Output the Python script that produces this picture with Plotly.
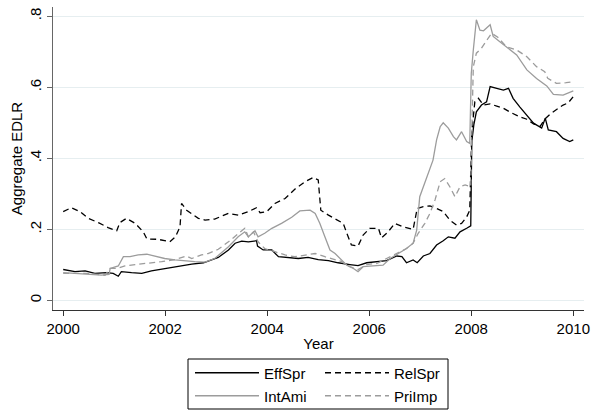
import plotly.graph_objects as go

# ---- data (decimal years, Aggregate EDLR) ----
eff_t = [2000.0, 2000.23, 2000.43, 2000.62, 2000.85, 2000.98, 2001.08, 2001.14, 2001.34, 2001.54,
         2001.73, 2001.93, 2002.13, 2002.32, 2002.52, 2002.75, 2003.04, 2003.24, 2003.37, 2003.5,
         2003.63, 2003.79, 2003.81, 2003.92, 2004.09, 2004.22, 2004.41, 2004.61, 2004.8, 2005.0,
         2005.2, 2005.39, 2005.62, 2005.78, 2005.95, 2006.15, 2006.34, 2006.54, 2006.64, 2006.73,
         2006.86, 2006.94, 2007.06, 2007.19, 2007.32, 2007.45, 2007.55, 2007.68, 2007.78, 2007.91,
         2007.99, 2008.01, 2008.05, 2008.1, 2008.2, 2008.3, 2008.37, 2008.5, 2008.63, 2008.73,
         2008.82, 2008.95, 2009.09, 2009.22, 2009.38, 2009.45, 2009.51, 2009.67, 2009.8, 2009.93,
         2010.0]
eff_v = [0.087, 0.081, 0.083, 0.076, 0.078, 0.076, 0.068, 0.081, 0.078, 0.076,
         0.083, 0.088, 0.092, 0.097, 0.102, 0.106, 0.121, 0.142, 0.161, 0.167,
         0.165, 0.168, 0.153, 0.142, 0.142, 0.123, 0.121, 0.118, 0.121, 0.115,
         0.112, 0.106, 0.101, 0.098, 0.106, 0.109, 0.112, 0.125, 0.123, 0.106,
         0.114, 0.106, 0.125, 0.132, 0.156, 0.168, 0.179, 0.175, 0.193, 0.203,
         0.21, 0.447, 0.494, 0.531, 0.55, 0.559, 0.602, 0.597, 0.592, 0.597,
         0.569, 0.545, 0.522, 0.499, 0.485, 0.513, 0.48, 0.475, 0.456, 0.447,
         0.452]

rel_t = [2000.0, 2000.16, 2000.33, 2000.49, 2000.69, 2000.88, 2001.05, 2001.11, 2001.24, 2001.41,
         2001.57, 2001.64, 2001.86, 2002.09, 2002.2, 2002.29, 2002.32, 2002.42, 2002.65, 2002.78,
         2002.97, 2003.24, 2003.43, 2003.63, 2003.79, 2003.86, 2003.99, 2004.15, 2004.35, 2004.54,
         2004.74, 2004.9, 2005.0, 2005.05, 2005.2, 2005.36, 2005.49, 2005.56, 2005.65, 2005.78,
         2005.88, 2006.01, 2006.18, 2006.24, 2006.37, 2006.5, 2006.67, 2006.86, 2006.94, 2007.06,
         2007.19, 2007.32, 2007.45, 2007.58, 2007.71, 2007.81, 2007.91, 2007.97, 2008.01, 2008.07,
         2008.14, 2008.24, 2008.37, 2008.5, 2008.63, 2008.76, 2008.86, 2008.95, 2009.09, 2009.22,
         2009.35, 2009.44, 2009.55, 2009.67, 2009.8, 2009.9, 2010.0]
rel_v = [0.25, 0.261, 0.25, 0.231, 0.219, 0.205, 0.196, 0.219, 0.231, 0.217,
         0.193, 0.173, 0.172, 0.165, 0.179, 0.207, 0.273, 0.254, 0.231, 0.226,
         0.229, 0.245, 0.24, 0.25, 0.261, 0.247, 0.25, 0.273, 0.287, 0.313,
         0.334, 0.346, 0.339, 0.254, 0.24, 0.226, 0.217, 0.189, 0.156, 0.153,
         0.184, 0.203, 0.203, 0.176, 0.193, 0.217, 0.207, 0.2, 0.259, 0.264,
         0.266, 0.259, 0.25, 0.226, 0.212, 0.217, 0.235, 0.254, 0.475, 0.559,
         0.569, 0.55, 0.553, 0.547, 0.541, 0.53, 0.522, 0.517, 0.51, 0.497,
         0.49, 0.51, 0.525, 0.536, 0.55, 0.556, 0.574]

ami_t = [2000.0, 2000.23, 2000.49, 2000.75, 2000.9, 2000.92, 2001.08, 2001.18, 2001.31, 2001.47,
         2001.64, 2001.8, 2001.99, 2002.19, 2002.39, 2002.58, 2002.78, 2002.97, 2003.24, 2003.43,
         2003.56, 2003.63, 2003.76, 2003.82, 2003.95, 2004.09, 2004.28, 2004.48, 2004.64, 2004.84,
         2004.94, 2005.03, 2005.13, 2005.23, 2005.33, 2005.43, 2005.56, 2005.69, 2005.78, 2005.88,
         2006.08, 2006.27, 2006.41, 2006.57, 2006.73, 2006.86, 2006.93, 2006.99, 2007.13, 2007.25,
         2007.32, 2007.39, 2007.45, 2007.55, 2007.65, 2007.71, 2007.81, 2007.91, 2007.97, 2008.0,
         2008.04, 2008.1, 2008.17, 2008.24, 2008.37, 2008.43, 2008.56, 2008.69, 2008.89, 2009.09,
         2009.28, 2009.48, 2009.61, 2009.8, 2010.0]
ami_v = [0.078, 0.076, 0.073, 0.071, 0.073, 0.09, 0.097, 0.123, 0.123, 0.128,
         0.13, 0.125, 0.118, 0.114, 0.111, 0.109, 0.108, 0.118, 0.151, 0.179,
         0.193, 0.179, 0.196, 0.179, 0.189, 0.203, 0.217, 0.234, 0.252, 0.254,
         0.245, 0.217, 0.179, 0.142, 0.132, 0.118, 0.099, 0.09, 0.081, 0.095,
         0.097, 0.099, 0.118, 0.132, 0.146, 0.161, 0.198, 0.292, 0.348, 0.395,
         0.452, 0.489, 0.5, 0.485, 0.461, 0.452, 0.475, 0.447, 0.442, 0.639,
         0.705, 0.79, 0.761, 0.759, 0.776, 0.743, 0.728, 0.714, 0.691, 0.649,
         0.625, 0.604, 0.58, 0.578, 0.59]

pri_t = [2000.0, 2000.49, 2000.82, 2000.92, 2001.05, 2001.21, 2001.41, 2001.67, 2001.93, 2002.19,
         2002.42, 2002.52, 2002.71, 2002.84, 2003.04, 2003.24, 2003.43, 2003.56, 2003.63, 2003.73,
         2003.82, 2003.95, 2004.15, 2004.35, 2004.54, 2004.74, 2004.94, 2005.13, 2005.33, 2005.45,
         2005.62, 2005.78, 2005.95, 2006.15, 2006.34, 2006.54, 2006.73, 2006.86, 2006.96, 2007.09,
         2007.19, 2007.29, 2007.39, 2007.48, 2007.58, 2007.68, 2007.78, 2007.88, 2007.99, 2008.02,
         2008.04, 2008.1, 2008.2, 2008.33, 2008.4, 2008.52, 2008.69, 2008.89, 2009.09, 2009.28,
         2009.44, 2009.5, 2009.67, 2009.86, 2010.0]
pri_v = [0.076, 0.076, 0.071, 0.09, 0.09, 0.097, 0.101, 0.104, 0.109, 0.115,
         0.125, 0.118, 0.128, 0.132, 0.144, 0.165, 0.189, 0.203, 0.179, 0.193,
         0.165, 0.146, 0.137, 0.128, 0.123, 0.128, 0.132, 0.123, 0.114, 0.11,
         0.095, 0.087, 0.101, 0.104, 0.118, 0.132, 0.146, 0.161, 0.189, 0.217,
         0.245, 0.283, 0.334, 0.343, 0.32, 0.292, 0.32, 0.325, 0.32, 0.536,
         0.658, 0.696, 0.71, 0.738, 0.752, 0.741, 0.714, 0.705, 0.686, 0.658,
         0.644, 0.625, 0.611, 0.613, 0.616]

x_ticks = [2000, 2002, 2004, 2006, 2008, 2010]
y_ticks = [0, 0.2, 0.4, 0.6, 0.8]
y_tick_text = ["0", ".2", ".4", ".6", ".8"]

FONT = "Liberation Sans, Arial, sans-serif"
GRAY = "#9c9c9c"

fig = go.Figure()
fig.add_trace(go.Scatter(x=eff_t, y=eff_v, name="EffSpr", mode="lines",
                         line=dict(color="black", width=1.3), legend="legend"))
fig.add_trace(go.Scatter(x=rel_t, y=rel_v, name="RelSpr", mode="lines",
                         line=dict(color="black", width=1.3, dash="6px,4px"), legend="legend"))
fig.add_trace(go.Scatter(x=ami_t, y=ami_v, name="IntAmi", mode="lines",
                         line=dict(color=GRAY, width=1.3), legend="legend2"))
fig.add_trace(go.Scatter(x=pri_t, y=pri_v, name="PriImp", mode="lines",
                         line=dict(color=GRAY, width=1.3, dash="6px,4px"), legend="legend2"))

leg_common = dict(orientation="h", xanchor="left", yanchor="middle",
                  bgcolor="rgba(0,0,0,0)", borderwidth=0,
                  font=dict(family=FONT, size=15, color="black"),
                  itemwidth=64, entrywidth=51, traceorder="normal")

fig.update_layout(
    width=591, height=410,
    margin=dict(l=53, r=7, t=7, b=100, autoexpand=False),
    paper_bgcolor="white", plot_bgcolor="white",
    font=dict(family=FONT, size=15, color="black"),
    showlegend=True,
    legend=dict(x=(190 - 53) / 531, y=(310 - 373) / 303, **leg_common),
    legend2=dict(x=(190 - 53) / 531, y=(310 - 396) / 303, **leg_common),
    xaxis=dict(range=[1999.8, 2010.21], tickvals=x_ticks, ticktext=[str(v) for v in x_ticks],
               showgrid=False, zeroline=False, showline=True, linecolor="#333333", linewidth=1,
               ticks="outside", ticklen=5, tickcolor="#333333", automargin=False,
               ticklabeloverflow="allow",
               title=dict(text="Year", font=dict(size=15), standoff=2),
               tickfont=dict(size=15)),
    yaxis=dict(range=[-0.027, 0.826], tickvals=y_ticks, ticktext=y_tick_text,
               tickangle=-90, showgrid=True, gridcolor="#e6eef0", gridwidth=1,
               zeroline=False, showline=True, linecolor="#666666", linewidth=1,
               ticks="outside", ticklen=5, tickcolor="#666666", automargin=False,
               title=dict(text="Aggregate EDLR", font=dict(size=15), standoff=0),
               tickfont=dict(size=15)),
    shapes=[dict(type="rect", xref="paper", yref="paper",
                 x0=(188 - 53) / 531, x1=(448 - 53) / 531,
                 y0=(310 - 409) / 303, y1=(310 - 359) / 303,
                 line=dict(color="black", width=1), fillcolor="rgba(0,0,0,0)")],
)

fig.write_html("out.html", config={"displayModeBar": False},
               post_script="document.body.style.margin='0px';document.body.style.overflow='hidden';")
